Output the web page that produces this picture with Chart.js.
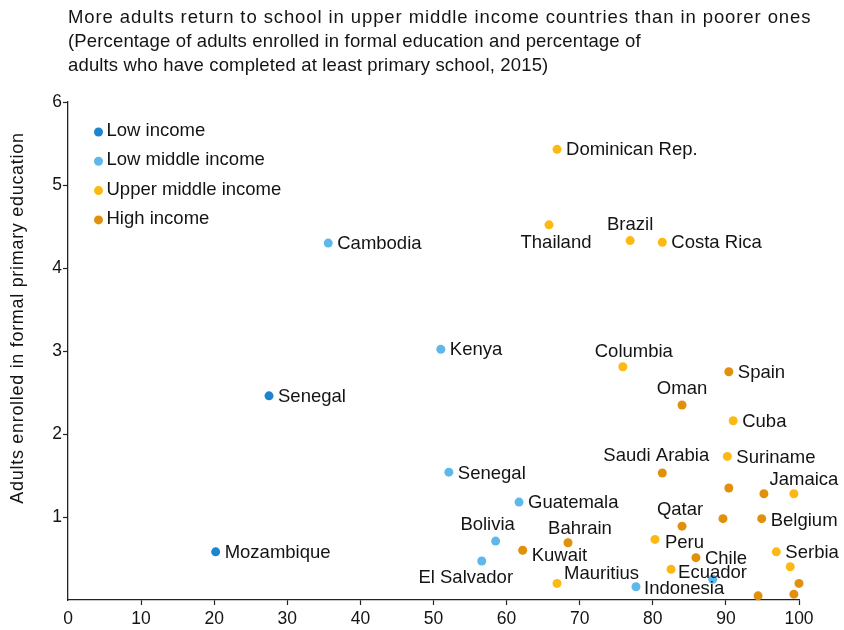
<!DOCTYPE html>
<html><head><meta charset="utf-8">
<script src="https://cdn.jsdelivr.net/npm/chart.js@4/dist/chart.umd.min.js"></script>
<style>html,body{margin:0;padding:0;background:#fff}#wrap{width:844px;height:630px;position:relative}</style>
</head><body><div id="wrap"><canvas id="c"></canvas></div>
<script>
// ---- text ----
const titleLines = [
  'More adults return to school in upper middle income countries than in poorer ones',
  '(Percentage of adults enrolled in formal education and percentage of',
  'adults who have completed at least primary school, 2015)'
];
const yAxisTitle = 'Adults enrolled in formal primary education';
const xTickValues = [0,10,20,30,40,50,60,70,80,90,100];
const yTickValues = [1,2,3,4,5,6];
const groupNames = ['Low income','Low middle income','Upper middle income','High income'];

// ---- data: x = % adults completed at least primary, y = % adults enrolled ----
const lowNames = ['Senegal','Mozambique'];
const lowX = [27.5, 20.2];
const lowY = [2.46, 0.58];

const lowMidNames = ['Cambodia','Kenya','Senegal','Guatemala','Bolivia','El Salvador','Indonesia',''];
const lowMidX = [35.6, 51.0, 52.1, 61.7, 58.5, 56.6, 77.7, 88.2];
const lowMidY = [4.30, 3.02, 1.54, 1.18, 0.71, 0.47, 0.16, 0.25];

const upMidNames = ['Dominican Rep.','Thailand','Brazil','Costa Rica','Columbia','Cuba','Suriname','Jamaica','Peru','Ecuador','Mauritius','Serbia',''];
const upMidX = [66.9, 65.8, 76.9, 81.3, 75.9, 91.0, 90.2, 99.3, 80.3, 82.5, 66.9, 96.9, 98.8];
const upMidY = [5.43, 4.52, 4.33, 4.31, 2.81, 2.16, 1.73, 1.28, 0.73, 0.37, 0.20, 0.58, 0.40];

const highNames = ['Spain','Oman','Saudi Arabia','','','Qatar','','Belgium','Chile','Bahrain','Kuwait','','',''];
const highX = [90.4, 84.0, 81.3, 90.4, 95.2, 84.0, 89.6, 94.9, 85.9, 68.4, 62.2, 100.0, 99.3, 94.4];
const highY = [2.75, 2.35, 1.53, 1.35, 1.28, 0.89, 0.98, 0.98, 0.51, 0.69, 0.60, 0.20, 0.07, 0.05];

// ---- label placement (layout only): [anchor, dx, dy]  r = right of dot, c = centered at offset ----
const lowPlace = [['r',0,0],['r',0,0]];
const lowMidPlace = [['r',0,0],['r',0,0],['r',0,1],['r',0,0],['c',-8,-17],['c',-16,16],['r',-1,1],['r',0,0]];
const upMidPlace = [['r',0,0],['c',7,17],['c',0,-17],['r',0,0],['c',11,-16],['r',0,0],['r',0,0],['c',10,-15],['r',1,2],['r',-2,3],['r',-2,-10],['r',0,0],['r',0,0]];
const highPlace = [['r',0,0],['c',0,-17],['c',-6,-18],['r',0,0],['r',0,0],['c',-2,-17],['r',0,0],['r',0,1],['r',0,0],['c',12,-15],['r',0,5],['r',0,0],['r',0,0],['r',0,0]];

const titleSpacing = ['0.9px','0.15px','0.15px'];
const colors = ['#1b86cf','#5fb8ea','#fdb913','#e0900c'];
const FONT = '"Liberation Sans", Arial, Helvetica, sans-serif';
const TXT = '#141414';

function pts(xs, ys){ return xs.map((x,i)=>({x:x, y:ys[i]})); }

const datasets = [
  {label:groupNames[0], data:pts(lowX,lowY), names:lowNames, place:lowPlace},
  {label:groupNames[1], data:pts(lowMidX,lowMidY), names:lowMidNames, place:lowMidPlace},
  {label:groupNames[2], data:pts(upMidX,upMidY), names:upMidNames, place:upMidPlace},
  {label:groupNames[3], data:pts(highX,highY), names:highNames, place:highPlace}
].map((d,i)=>Object.assign(d,{
  backgroundColor:colors[i], borderWidth:0, pointRadius:4.5, pointHoverRadius:4.5, clip:false
}));

const annot = {
  id:'annot',
  afterDatasetsDraw(chart){
    const ctx = chart.ctx, ca = chart.chartArea;
    ctx.save();
    ctx.font = '18.5px ' + FONT;
    ctx.fillStyle = TXT;
    ctx.textBaseline = 'middle';
    chart.data.datasets.forEach((ds,di)=>{
      chart.getDatasetMeta(di).data.forEach((pt,i)=>{
        const name = ds.names[i];
        if(!name) return;
        const p = ds.place[i];
        if(p[0]==='r'){ ctx.textAlign='left'; ctx.fillText(name, pt.x+9+p[1], pt.y+1+p[2]); }
        else { ctx.textAlign='center'; ctx.fillText(name, pt.x+p[1], pt.y+1+p[2]); }
      });
    });
    // legend
    chart.data.datasets.forEach((ds,i)=>{
      const cy = ca.top + 29 + i*29.3;
      const cx = ca.left + 30.5;
      ctx.beginPath(); ctx.fillStyle = ds.backgroundColor;
      ctx.arc(cx, cy+1, 4.5, 0, Math.PI*2); ctx.fill();
      ctx.fillStyle = TXT; ctx.textAlign='left';
      ctx.fillText(ds.label, cx+8, cy);
    });
    // title
    ctx.font = '18.5px ' + FONT;
    ctx.textBaseline = 'middle';
    titleLines.forEach((t,i)=>{ ctx.letterSpacing = titleSpacing[i]; ctx.fillText(t, 68, 18 + i*24); });
    // y axis title
    ctx.font = '18px ' + FONT;
    ctx.letterSpacing = '0.7px';
    ctx.translate(18, 318);
    ctx.rotate(-Math.PI/2);
    ctx.textAlign = 'center';
    ctx.fillText(yAxisTitle, 0, 0);
    ctx.letterSpacing = '0px';
    ctx.restore();
  }
};

new Chart(document.getElementById('c'), {
  type:'scatter',
  data:{datasets:datasets},
  plugins:[annot],
  options:{
    responsive:true, maintainAspectRatio:false, animation:false,
    events:[],
    layout:{padding:{top:102, right:45, left:0, bottom:0}},
    plugins:{legend:{display:false}, title:{display:false}, tooltip:{enabled:false}},
    scales:{
      x:{
        type:'linear', min:0, max:100,
        afterBuildTicks(s){ s.ticks = xTickValues.map(v=>({value:v})); },
        afterFit(s){ s.height = 30; s.paddingLeft = 0; s.paddingRight = 0; },
        ticks:{font:{size:17.5, family:FONT}, color:TXT, padding:4, maxRotation:0, autoSkip:false},
        grid:{drawOnChartArea:false, drawTicks:true, tickLength:5, tickWidth:1.2,
          tickColor:(c)=> (c.tick && c.tick.value===0) ? 'rgba(0,0,0,0)' : '#222'},
        border:{display:true, color:'#222', width:1.3}
      },
      y:{
        type:'linear', min:0, max:6,
        afterBuildTicks(s){ s.ticks = [0].concat(yTickValues).map(v=>({value:v})); },
        afterFit(s){ s.width = 68; s.paddingTop = 0; s.paddingBottom = 0; },
        ticks:{font:{size:17.5, family:FONT}, color:TXT, padding:1,
          callback:(v)=> v===0 ? '' : String(v)},
        grid:{drawOnChartArea:false, drawTicks:true, tickLength:5, tickWidth:1.2,
          tickColor:(c)=> (c.tick && c.tick.value===0) ? 'rgba(0,0,0,0)' : '#222'},
        border:{display:true, color:'#222', width:1.3}
      }
    }
  }
});
</script></body></html>
